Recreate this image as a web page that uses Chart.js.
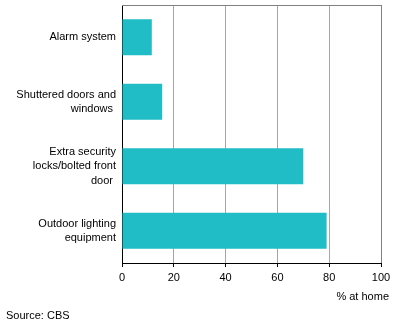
<!DOCTYPE html>
<html>
<head>
<meta charset="utf-8">
<script src="https://cdn.jsdelivr.net/npm/chart.js@4/dist/chart.umd.min.js"></script>
<style>
  body { margin: 0; background: #fff; }
  #wrap { width: 396px; height: 329px; }
</style>
</head>
<body>
<div id="wrap"><canvas id="myChart" width="396" height="329"></canvas></div>
<script>
const categories = [
    ['Alarm system'],
    ['Shuttered doors and', 'windows '],
    ['Extra security', 'locks/bolted front', 'door '],
    ['Outdoor lighting', 'equipment']
];
const shareAtHome = [11.5, 15.5, 70, 79];
const xMin = 0;
const xMax = 100;
const xStep = 20;
const unitLabel = '% at home';
const sourceLabel = 'Source: CBS';

const font = { family: '"Liberation Sans", Arial, sans-serif', size: 11, lineHeight: 1.3 };

// frame on top and right, plus the unit and source notes
const frameAndNotes = {
    id: 'frameAndNotes',
    afterDraw(chart) {
        const { ctx, chartArea } = chart;
        ctx.save();
        ctx.strokeStyle = '#808080';
        ctx.lineWidth = 1;
        ctx.beginPath();
        ctx.moveTo(chartArea.left, chartArea.top + 0.5);
        ctx.lineTo(chartArea.right + 0.5, chartArea.top + 0.5);
        ctx.lineTo(chartArea.right + 0.5, chartArea.bottom);
        ctx.stroke();

        ctx.fillStyle = '#000';
        ctx.font = '11px "Liberation Sans", Arial, sans-serif';
        ctx.textBaseline = 'middle';
        ctx.textAlign = 'right';
        ctx.fillText(unitLabel, 389, 297);
        ctx.textAlign = 'left';
        ctx.fillText(sourceLabel, 6, 316);
        ctx.restore();
    }
};

const data = {
    labels: categories,
    datasets: [{
        data: shareAtHome,
        backgroundColor: '#20bdc6',
        borderWidth: 0,
        barPercentage: 0.56,
        categoryPercentage: 1
    }]
};

const options = {
    indexAxis: 'y',
    responsive: false,
    animation: false,
    layout: { padding: { top: 5, right: 15, left: 0, bottom: 0 } },
    scales: {
        x: {
            min: xMin,
            max: xMax,
            ticks: {
                stepSize: xStep,
                color: '#000',
                font: font,
                padding: 4
            },
            grid: {
                color: ctx => (ctx.tick && ctx.tick.value === xMax) ? '#808080' : '#a6a6a6',
                tickColor: '#000',
                tickLength: 4
            },
            border: { color: '#000', width: 1 },
            afterFit(scale) { scale.height = 66; }
        },
        y: {
            ticks: {
                color: '#000',
                font: font,
                padding: 6
            },
            grid: { display: false, drawTicks: false },
            border: { color: '#000', width: 1 },
            afterFit(scale) {
                scale.width = 122;
                // multi-line labels would otherwise push the plot down
                scale.paddingTop = 0;
                scale.paddingBottom = 0;
            }
        }
    },
    plugins: {
        legend: { display: false },
        tooltip: { enabled: false }
    }
};

const canvas = document.getElementById('myChart');
const ctx = canvas.getContext('2d');

const myChart = new Chart(ctx, {
    type: 'bar',
    data: data,
    options: options,
    plugins: [frameAndNotes]
});
</script>
</body>
</html>
